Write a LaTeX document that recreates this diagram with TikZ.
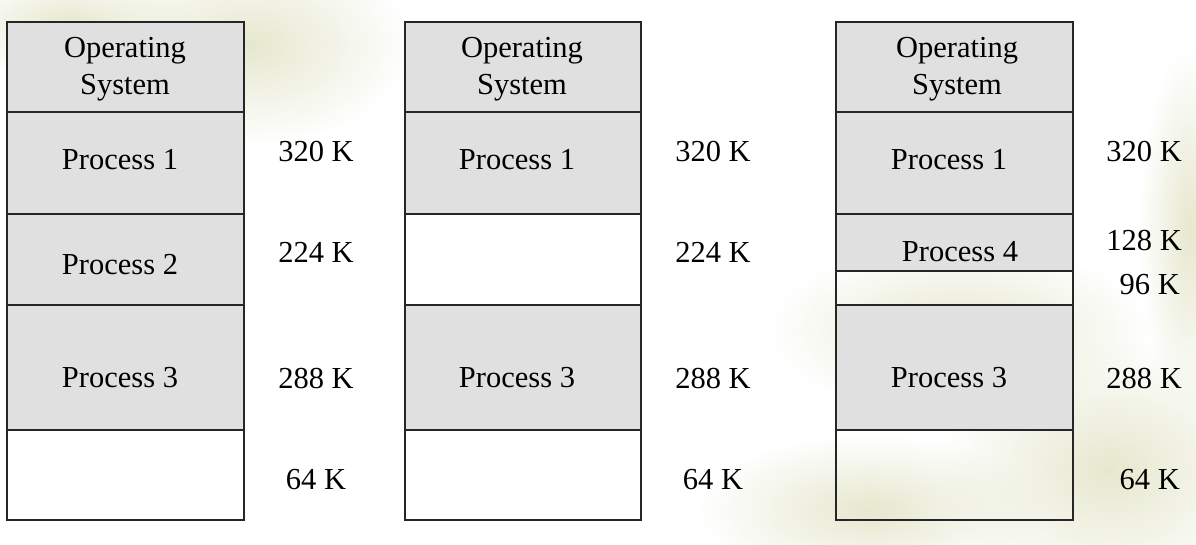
\documentclass[tikz,border=0pt]{standalone}
\usepackage{fontspec}
\usetikzlibrary{fadings}
\setmainfont{Liberation Serif}
\definecolor{blotc}{RGB}{230,232,206}
\tikzfading[name=softedge, inner color=transparent!0, outer color=transparent!100]
\begin{document}
\begin{tikzpicture}[x=1pt,y=-1pt,
  used/.style={draw=black!85,line width=1.3pt,fill=black!12},
  free/.style={draw=black!85,line width=1.3pt},
  lbl/.style={font=\fontsize{30.5}{37}\selectfont,inner sep=0pt},
  blot/.style={fill=blotc,path fading=softedge,fit fading=true}]
\useasboundingbox[fill=white] (0,0) rectangle (1196,544);
% faint background blotches
\foreach \cx/\cy/\rx/\ry in {250/45/160/100, 70/25/120/55, 960/330/190/85, 1110/470/170/130, 870/510/170/75, 1190/230/50/180}{
  \fill[blot] (\cx,\cy) ellipse ({\rx} and {\ry});
}
% Memory 1
\draw[used] (7,22) rectangle (244,112);
\draw[used] (7,112) rectangle (244,214);
\draw[used] (7,214) rectangle (244,305);
\draw[used] (7,305) rectangle (244,430);
\draw[free] (7,430) rectangle (244,520);
\node[lbl,align=center] (a0) at (125,69) {Operating\\System};
\node[lbl] (a1) at (120,160) {Process 1};
\node[lbl] (a2) at (120,265) {Process 2};
\node[lbl] (a3) at (120,378) {Process 3};
\node[lbl] (la1) at (316,152) {320 K};
\node[lbl] (la2) at (316,252) {224 K};
\node[lbl] (la3) at (316,378) {288 K};
\node[lbl] (la4) at (316,480) {64 K};
% Memory 2
\draw[used] (405,22) rectangle (641,112);
\draw[used] (405,112) rectangle (641,214);
\draw[free] (405,214) rectangle (641,305);
\draw[used] (405,305) rectangle (641,430);
\draw[free] (405,430) rectangle (641,520);
\node[lbl,align=center] (b0) at (522,69) {Operating\\System};
\node[lbl] (b1) at (517,160) {Process 1};
\node[lbl] (b3) at (517,378) {Process 3};
\node[lbl] (lb1) at (713,152) {320 K};
\node[lbl] (lb2) at (713,252) {224 K};
\node[lbl] (lb3) at (713,378) {288 K};
\node[lbl] (lb4) at (713,480) {64 K};
% Memory 3
\draw[used] (836,22) rectangle (1073,112);
\draw[used] (836,112) rectangle (1073,214);
\draw[used] (836,214) rectangle (1073,271);
\draw[free] (836,271) rectangle (1073,305);
\draw[used] (836,305) rectangle (1073,430);
\draw[free] (836,430) rectangle (1073,520);
\node[lbl,align=center] (c0) at (957,69) {Operating\\System};
\node[lbl] (c1) at (949,160) {Process 1};
\node[lbl] (c4) at (960,252) {Process 4};
\node[lbl] (c3) at (949,378) {Process 3};
\node[lbl,anchor=east] (lc1) at (1182,152) {320 K};
\node[lbl,anchor=east] (lc2) at (1182,241) {128 K};
\node[lbl,anchor=east] (lc5) at (1180,285) {96 K};
\node[lbl,anchor=east] (lc3) at (1182,378) {288 K};
\node[lbl,anchor=east] (lc4) at (1180,480) {64 K};
\end{tikzpicture}
\end{document}
